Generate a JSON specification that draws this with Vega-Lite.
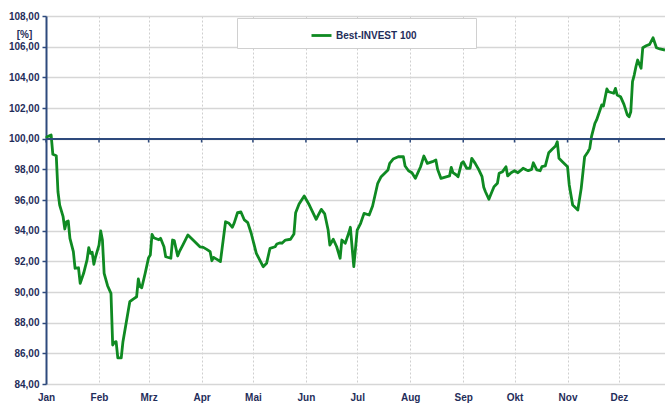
{
  "$schema": "https://vega.github.io/schema/vega-lite/v6.json",
  "width": 619,
  "height": 368,
  "autosize": {"type": "none"},
  "padding": {"left": 46, "top": 16, "right": 0, "bottom": 19},
  "background": "white",
  "config": {
    "view": {"stroke": null},
    "font": "Liberation Sans"
  },
  "datasets": {
    "index": [
      {"d":"2016-01-01","v":100.04},{"d":"2016-01-02","v":100.14},{"d":"2016-01-04","v":100.24},{"d":"2016-01-05","v":98.98},
      {"d":"2016-01-07","v":98.89},{"d":"2016-01-08","v":96.54},{"d":"2016-01-09","v":95.67},{"d":"2016-01-11","v":94.91},
      {"d":"2016-01-12","v":94.11},{"d":"2016-01-13","v":94.58},{"d":"2016-01-14","v":94.63},{"d":"2016-01-15","v":93.5},
      {"d":"2016-01-17","v":92.63},{"d":"2016-01-18","v":91.55},{"d":"2016-01-20","v":91.58},{"d":"2016-01-21","v":90.57},
      {"d":"2016-01-23","v":91.22},{"d":"2016-01-25","v":92.09},{"d":"2016-01-26","v":92.89},{"d":"2016-01-27","v":92.52},
      {"d":"2016-01-28","v":92.59},{"d":"2016-01-29","v":91.81},{"d":"2016-01-30","v":92.3},{"d":"2016-02-01","v":93.06},
      {"d":"2016-02-02","v":93.98},{"d":"2016-02-03","v":93.39},{"d":"2016-02-04","v":91.22},{"d":"2016-02-06","v":90.41},
      {"d":"2016-02-08","v":89.91},{"d":"2016-02-09","v":86.54},{"d":"2016-02-10","v":86.72},{"d":"2016-02-11","v":86.76},
      {"d":"2016-02-12","v":85.71},{"d":"2016-02-14","v":85.71},{"d":"2016-02-15","v":86.76},{"d":"2016-02-17","v":88.06},
      {"d":"2016-02-19","v":89.37},{"d":"2016-02-21","v":89.54},{"d":"2016-02-23","v":89.69},{"d":"2016-02-24","v":90.85},
      {"d":"2016-02-25","v":90.35},{"d":"2016-02-26","v":90.28},{"d":"2016-02-28","v":91.22},{"d":"2016-03-01","v":92.24},
      {"d":"2016-03-02","v":92.41},{"d":"2016-03-03","v":93.76},{"d":"2016-03-04","v":93.54},{"d":"2016-03-07","v":93.41},
      {"d":"2016-03-08","v":93.5},{"d":"2016-03-10","v":92.95},{"d":"2016-03-11","v":92.3},{"d":"2016-03-14","v":92.2},
      {"d":"2016-03-15","v":93.39},{"d":"2016-03-16","v":93.35},{"d":"2016-03-18","v":92.35},{"d":"2016-03-19","v":92.63},
      {"d":"2016-03-21","v":93.06},{"d":"2016-03-24","v":93.72},{"d":"2016-03-27","v":93.39},{"d":"2016-03-31","v":92.95},
      {"d":"2016-04-02","v":92.91},{"d":"2016-04-04","v":92.78},{"d":"2016-04-06","v":92.63},{"d":"2016-04-07","v":92.04},
      {"d":"2016-04-08","v":92.26},{"d":"2016-04-10","v":92.13},{"d":"2016-04-12","v":91.98},{"d":"2016-04-15","v":94.58},
      {"d":"2016-04-17","v":94.48},{"d":"2016-04-19","v":94.22},{"d":"2016-04-20","v":94.48},{"d":"2016-04-22","v":95.17},
      {"d":"2016-04-24","v":95.22},{"d":"2016-04-26","v":94.7},{"d":"2016-04-28","v":94.52},{"d":"2016-04-30","v":93.83},
      {"d":"2016-05-03","v":92.52},{"d":"2016-05-07","v":91.65},{"d":"2016-05-09","v":91.87},{"d":"2016-05-11","v":92.85},
      {"d":"2016-05-14","v":92.95},{"d":"2016-05-15","v":93.13},{"d":"2016-05-17","v":93.21},{"d":"2016-05-18","v":93.18},
      {"d":"2016-05-20","v":93.39},{"d":"2016-05-23","v":93.44},{"d":"2016-05-25","v":93.78},{"d":"2016-05-26","v":95.17},
      {"d":"2016-05-28","v":95.74},{"d":"2016-05-31","v":96.26},{"d":"2016-06-03","v":95.67},{"d":"2016-06-07","v":94.74},
      {"d":"2016-06-08","v":94.96},{"d":"2016-06-10","v":95.39},{"d":"2016-06-12","v":95.09},{"d":"2016-06-14","v":94.04},
      {"d":"2016-06-15","v":93.06},{"d":"2016-06-17","v":93.44},{"d":"2016-06-19","v":92.95},{"d":"2016-06-21","v":92.2},
      {"d":"2016-06-22","v":93.39},{"d":"2016-06-24","v":93.18},{"d":"2016-06-26","v":93.83},{"d":"2016-06-27","v":94.22},
      {"d":"2016-06-29","v":91.65},{"d":"2016-07-01","v":94.04},{"d":"2016-07-03","v":94.48},{"d":"2016-07-05","v":95.13},
      {"d":"2016-07-08","v":95.02},{"d":"2016-07-10","v":95.61},{"d":"2016-07-13","v":97.09},{"d":"2016-07-15","v":97.52},
      {"d":"2016-07-19","v":97.96},{"d":"2016-07-20","v":98.39},{"d":"2016-07-22","v":98.67},{"d":"2016-07-25","v":98.82},
      {"d":"2016-07-28","v":98.82},{"d":"2016-07-29","v":98.22},{"d":"2016-07-31","v":97.91},{"d":"2016-08-02","v":97.78},
      {"d":"2016-08-04","v":97.41},{"d":"2016-08-07","v":98.15},{"d":"2016-08-09","v":98.87},{"d":"2016-08-11","v":98.39},
      {"d":"2016-08-14","v":98.5},{"d":"2016-08-16","v":98.61},{"d":"2016-08-17","v":98.0},{"d":"2016-08-19","v":97.41},
      {"d":"2016-08-21","v":97.48},{"d":"2016-08-24","v":97.57},{"d":"2016-08-25","v":98.13},{"d":"2016-08-26","v":97.78},
      {"d":"2016-08-28","v":97.63},{"d":"2016-08-29","v":97.52},{"d":"2016-08-31","v":98.39},{"d":"2016-09-01","v":98.5},
      {"d":"2016-09-03","v":98.07},{"d":"2016-09-05","v":98.07},{"d":"2016-09-06","v":98.72},{"d":"2016-09-08","v":98.39},
      {"d":"2016-09-10","v":98.0},{"d":"2016-09-12","v":97.52},{"d":"2016-09-13","v":96.83},{"d":"2016-09-14","v":96.54},
      {"d":"2016-09-16","v":96.05},{"d":"2016-09-17","v":96.33},{"d":"2016-09-19","v":96.87},{"d":"2016-09-21","v":97.09},
      {"d":"2016-09-22","v":97.74},{"d":"2016-09-24","v":97.85},{"d":"2016-09-26","v":98.17},{"d":"2016-09-27","v":97.57},
      {"d":"2016-09-29","v":97.78},{"d":"2016-10-01","v":97.91},{"d":"2016-10-03","v":97.78},{"d":"2016-10-05","v":97.96},
      {"d":"2016-10-06","v":98.07},{"d":"2016-10-08","v":97.96},{"d":"2016-10-09","v":97.91},{"d":"2016-10-11","v":98.0},
      {"d":"2016-10-12","v":98.43},{"d":"2016-10-14","v":97.96},{"d":"2016-10-16","v":97.91},{"d":"2016-10-17","v":98.17},
      {"d":"2016-10-19","v":98.22},{"d":"2016-10-21","v":99.08},{"d":"2016-10-23","v":99.31},{"d":"2016-10-25","v":99.52},
      {"d":"2016-10-26","v":99.8},{"d":"2016-10-27","v":98.72},{"d":"2016-10-29","v":98.5},{"d":"2016-11-01","v":98.17},
      {"d":"2016-11-02","v":96.98},{"d":"2016-11-04","v":95.67},{"d":"2016-11-06","v":95.46},{"d":"2016-11-07","v":95.35},
      {"d":"2016-11-09","v":96.76},{"d":"2016-11-11","v":98.82},{"d":"2016-11-13","v":99.15},{"d":"2016-11-14","v":99.37},
      {"d":"2016-11-15","v":100.13},{"d":"2016-11-17","v":101.0},{"d":"2016-11-18","v":101.22},{"d":"2016-11-20","v":101.87},
      {"d":"2016-11-21","v":102.2},{"d":"2016-11-22","v":102.13},{"d":"2016-11-24","v":103.24},{"d":"2016-11-25","v":103.06},
      {"d":"2016-11-28","v":102.96},{"d":"2016-11-29","v":103.28},{"d":"2016-11-30","v":102.85},{"d":"2016-12-02","v":102.74},
      {"d":"2016-12-04","v":102.24},{"d":"2016-12-06","v":101.54},{"d":"2016-12-07","v":101.43},{"d":"2016-12-08","v":101.76},
      {"d":"2016-12-09","v":103.72},{"d":"2016-12-10","v":104.15},{"d":"2016-12-11","v":104.69},{"d":"2016-12-12","v":105.13},
      {"d":"2016-12-14","v":104.59},{"d":"2016-12-15","v":105.93},{"d":"2016-12-17","v":106.06},{"d":"2016-12-19","v":106.15},
      {"d":"2016-12-21","v":106.58},{"d":"2016-12-23","v":105.93},{"d":"2016-12-25","v":105.85},{"d":"2016-12-28","v":105.78}
    ],
    "months": [
      {"m":"2016-01-01"},{"m":"2016-02-01"},{"m":"2016-03-01"},{"m":"2016-04-01"},{"m":"2016-05-01"},{"m":"2016-06-01"},
      {"m":"2016-07-01"},{"m":"2016-08-01"},{"m":"2016-09-01"},{"m":"2016-10-01"},{"m":"2016-11-01"},{"m":"2016-12-01"}
    ]
  },
  "layer": [
    {
      "data": {"name": "index"},
      "mark": {"type": "line", "strokeWidth": 2.8, "strokeJoin": "round"},
      "encoding": {
        "x": {
          "field": "d",
          "type": "temporal",
          "scale": {
            "type": "utc",
            "domain": [
              {"year": 2016, "month": 1, "date": 1, "utc": true},
              {"year": 2016, "month": 12, "date": 28, "utc": true}
            ]
          },
          "axis": {
            "title": null,
            "tickCount": {"interval": "month", "step": 1},
            "labelExpr": "['Jan','Feb','Mrz','Apr','Mai','Jun','Jul','Aug','Sep','Okt','Nov','Dez'][utcmonth(datum.value)]",
            "domain": false,
            "ticks": false,
            "grid": true,
            "gridColor": "#cfcfcf",
            "gridDash": [2, 2],
            "gridWidth": 1,
            "labelFont": "Liberation Sans",
            "labelFontWeight": "bold",
            "labelFontSize": 10,
            "labelColor": "#1f2d5a",
            "labelPadding": 8,
            "labelAlign": "center",
            "labelOverlap": false,
            "labelFlush": false
          }
        },
        "y": {
          "field": "v",
          "type": "quantitative",
          "scale": {"domain": [84, 108], "nice": false, "zero": false},
          "axis": {
            "title": "[%]",
            "titleAngle": 0,
            "titleX": -22,
            "titleY": 18,
            "titleAlign": "center",
            "titleBaseline": "middle",
            "titleFont": "Liberation Sans",
            "titleFontSize": 10,
            "titleFontWeight": "bold",
            "titleColor": "#1f2d5a",
            "values": [84, 86, 88, 90, 92, 94, 96, 98, 100, 102, 104, 106, 108],
            "tickCount": 13,
            "labelExpr": "replace(format(datum.value, '.2f'), '.', ',')",
            "labelOverlap": false,
            "labelFont": "Liberation Sans",
            "labelFontWeight": "bold",
            "labelFontSize": 10,
            "labelColor": "#1f2d5a",
            "labelPadding": 3,
            "domainColor": "#2e4a7d",
            "domainWidth": 2,
            "tickColor": "#2e4a7d",
            "tickWidth": 1.5,
            "tickSize": 4,
            "grid": true,
            "gridColor": "#d6d6d6",
            "gridWidth": 1.5
          }
        },
        "color": {
          "datum": "Best-INVEST 100",
          "type": "nominal",
          "scale": {"range": ["#0f8a22"]},
          "legend": {
            "title": " ",
            "titleOrient": "right",
            "titlePadding": 53,
            "titleFontSize": 10,
            "orient": "none",
            "legendX": 191,
            "legendY": 2,
            "padding": 6,
            "fillColor": "white",
            "strokeColor": "#d0d0d0",
            "symbolType": "stroke",
            "symbolSize": 400,
            "symbolStrokeWidth": 2.8,
            "symbolOffset": 67,
            "labelOffset": 3,
            "labelFont": "Liberation Sans",
            "labelFontWeight": "bold",
            "labelFontSize": 10,
            "labelColor": "#1f2d5a"
          }
        }
      }
    },
    {
      "data": {"name": "months"},
      "mark": {"type": "rule", "color": "#2e4a7d", "strokeWidth": 1.5},
      "encoding": {
        "x": {"field": "m", "type": "temporal"},
        "y": {"datum": 100},
        "y2": {"datum": 99.75}
      }
    },
    {
      "data": {"name": "months"},
      "mark": {"type": "rule", "color": "#2e4a7d", "strokeWidth": 1.5},
      "encoding": {
        "y": {"datum": 100}
      }
    }
  ]
}
